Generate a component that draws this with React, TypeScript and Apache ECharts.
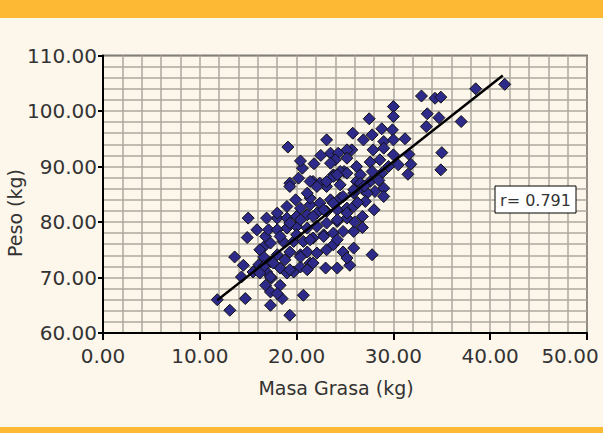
import React, { useEffect, useRef } from "react";
import * as echarts from "echarts";

const masaGrasa = [
  38.5, 41.5, 32.9, 34.3, 34.9, 30.0, 30.0, 33.5, 34.7, 37.0, 33.4, 27.5, 35.0, 34.9, 31.5, 31.8, 31.2, 31.6, 30.5, 28.8,
  29.9, 25.8, 26.9, 27.8, 29.0, 30.0, 27.9, 29.0, 27.6, 28.6, 26.2, 25.7, 28.8, 30.0, 27.6, 29.0, 26.2, 26.9, 28.1, 25.9,
  29.0, 19.1, 20.6, 23.1, 23.5, 24.3, 25.2, 24.0, 25.2, 21.7, 22.4, 19.3, 20.2, 23.8, 24.9, 19.3, 21.4, 23.5, 24.5, 23.8,
  23.1, 24.5, 25.2, 26.6, 27.8, 27.3, 28.0, 26.8, 25.9, 27.8, 25.9, 24.8, 25.5, 24.2, 23.0, 20.7, 18.5, 17.3, 19.3, 14.7,
  13.1, 11.8, 13.6, 14.5, 15.0, 15.9, 14.9, 14.3, 16.8, 17.3, 15.5, 16.6, 16.8, 17.1, 18.0, 16.1, 16.9, 17.4, 18.3, 19.0,
  19.7, 20.4, 21.4, 18.8, 18.0, 19.3, 20.4, 21.1, 22.1, 23.1, 23.8, 16.6, 17.3, 18.6, 19.7, 20.7, 21.7, 22.8, 23.8, 24.8,
  18.0, 19.0, 20.0, 21.1, 22.1, 23.1, 24.2, 25.2, 19.0, 20.0, 21.1, 22.1, 23.1, 24.2, 25.2, 20.4, 21.4, 22.4, 23.5, 24.5,
  21.4, 25.2, 24.2, 16.9, 18.0, 19.0, 19.9, 21.1, 22.1, 23.1, 19.3, 20.4, 21.7, 22.8, 23.8, 24.8, 25.9, 26.6, 25.2, 24.2,
  25.9, 27.1, 24.2, 22.8, 21.4, 20.0, 18.3, 17.3, 16.2, 16.6, 17.6, 16.2, 17.3, 18.3, 18.0, 21.7, 21.1, 19.3, 20.4, 26.3,
  27.0, 28.5, 29.5, 26.0, 26.8, 20.4, 21.8, 22.5
];

const peso = [
  104.0, 104.8, 102.7, 102.3, 102.5, 100.8, 99.0, 99.5, 98.8, 98.1, 97.2, 98.6, 92.5, 89.4, 88.6, 90.4, 95.0, 92.2, 90.3, 96.8,
  96.6, 96.0, 94.8, 95.7, 94.5, 94.8, 93.0, 93.3, 90.8, 91.2, 90.0, 93.0, 88.8, 92.1, 87.3, 86.1, 87.3, 85.8, 85.5, 85.2,
  84.6, 93.5, 89.7, 94.8, 92.4, 92.4, 93.0, 91.2, 91.5, 87.3, 87.0, 87.0, 87.9, 88.5, 89.1, 86.4, 87.3, 90.6, 89.1, 88.2,
  86.4, 86.7, 88.8, 88.5, 89.1, 85.2, 82.2, 81.0, 78.3, 74.1, 75.3, 74.6, 72.2, 71.7, 71.7, 66.8, 66.2, 65.0, 63.2, 66.2,
  64.1, 66.0, 73.7, 72.2, 80.7, 78.6, 77.2, 70.1, 68.6, 67.4, 71.0, 75.5, 77.4, 78.6, 80.7, 72.3, 71.0, 69.9, 71.7, 70.8,
  71.0, 71.9, 72.6, 73.2, 74.1, 74.6, 74.1, 74.6, 74.4, 75.0, 75.9, 73.7, 72.8, 76.5, 76.5, 76.5, 77.1, 77.7, 78.0, 78.3,
  78.6, 78.9, 79.2, 78.9, 79.2, 79.8, 80.1, 80.7, 80.7, 81.0, 81.3, 81.6, 81.9, 82.2, 82.5, 82.5, 83.1, 83.4, 84.0, 84.3,
  84.3, 73.5, 88.5, 80.7, 81.6, 82.8, 84.0, 85.2, 86.4, 87.3, 79.8, 80.4, 81.0, 82.2, 83.4, 84.6, 85.8, 87.0, 81.6, 80.4,
  82.8, 83.7, 76.8, 77.4, 76.8, 77.7, 77.4, 76.2, 75.0, 72.0, 72.6, 70.8, 70.1, 68.6, 67.1, 72.6, 71.4, 71.4, 73.7, 83.5,
  86.5, 87.5, 90.0, 80.0, 79.0, 91.0, 90.5, 92.0
];

const lineX = [11.8, 41.3];
const lineY = [65.9, 106.4];

const xTicks = [0, 10, 20, 30, 40, 50];
const yTicks = [60, 70, 80, 90, 100, 110];

const xTitle = "Masa Grasa (kg)";
const yTitle = "Peso (kg)";
const rLabel = "r= 0.791";

const FONT = "DejaVu Sans";
const GRID_COLOR = "#aca89f";
const TEXT_COLOR = "#333";

export default function App() {
  const ref = useRef<HTMLDivElement>(null);
  useEffect(() => {
    if (!ref.current) return;
    const chart = echarts.init(ref.current, undefined, { renderer: "svg" });
    const points = masaGrasa.map((x, i) => [x, peso[i]]);
    const linePts = lineX.map((x, i) => [x, lineY[i]]);
    const xMax = xTicks[xTicks.length - 1];
    const labelStyle = { fontFamily: FONT, fontSize: 20, color: TEXT_COLOR };
    const axisCommon = {
      type: "value" as const,
      axisLine: { show: true, onZero: false, lineStyle: { color: "#000", width: 2 } },
      splitLine: { show: true, lineStyle: { color: GRID_COLOR, width: 1.5 } },
      minorTick: { show: false, splitNumber: 5 },
      minorSplitLine: { show: true, lineStyle: { color: GRID_COLOR, width: 1.5 } },
    };
    chart.setOption({
      animation: false,
      backgroundColor: "#fdf6ea",
      graphic: [
        { type: "rect", left: 603, top: 0, z: -5, shape: { width: 6, height: 433 }, style: { fill: "#ffffff" }, silent: true },
        { type: "rect", left: 0, top: 0, shape: { width: 603, height: 18 }, style: { fill: "#fdb933" }, silent: true },
        { type: "rect", left: 0, top: 427, shape: { width: 603, height: 6 }, style: { fill: "#fdb933" }, silent: true },
        {
          type: "rect",
          z: 100,
          shape: { x: 495, y: 186, width: 81, height: 27 },
          style: { fill: "#ffffff", stroke: "#000", lineWidth: 1 },
          silent: true,
        },
        {
          type: "text",
          z: 101,
          x: 535.5,
          y: 200,
          style: { text: rLabel, fontFamily: FONT, fontSize: 16, fill: TEXT_COLOR, align: "center", verticalAlign: "middle" },
          silent: true,
        },
        {
          type: "text",
          z: 50,
          x: 336,
          y: 388,
          style: { text: xTitle, fontFamily: FONT, fontSize: 19, fill: TEXT_COLOR, align: "center", verticalAlign: "middle" },
          silent: true,
        },
        {
          type: "text",
          z: 50,
          x: 15,
          y: 213,
          rotation: Math.PI / 2,
          style: { text: yTitle, fontFamily: FONT, fontSize: 19, fill: TEXT_COLOR, align: "center", verticalAlign: "middle" },
          silent: true,
        },
      ],
      grid: {
        left: 103,
        right: 22,
        top: 55.5,
        bottom: 100,
        show: true,
        backgroundColor: "#fdf6ea",
        borderColor: "#000",
        borderWidth: 1.5,
      },
      xAxis: {
        ...axisCommon,
        min: xTicks[0],
        max: xMax,
        interval: xTicks[1] - xTicks[0],
        axisTick: { show: true, inside: false, length: 7, lineStyle: { color: "#000", width: 2 } },
        axisLabel: {
          ...labelStyle,
          margin: 13,
          formatter: (v: number) => (v === xMax ? "{m|" + v.toFixed(2) + "}" : v.toFixed(2)),
          rich: { m: { ...labelStyle, padding: [0, 34, 0, 0] } },
        },
      },
      yAxis: {
        ...axisCommon,
        min: yTicks[0],
        max: yTicks[yTicks.length - 1],
        interval: yTicks[1] - yTicks[0],
        axisTick: { show: true, inside: false, length: 5, lineStyle: { color: "#000", width: 2 } },
        axisLabel: { ...labelStyle, margin: 6, formatter: (v: number) => v.toFixed(2) },
      },
      series: [
        {
          type: "scatter",
          data: points,
          symbol: "diamond",
          symbolSize: 12,
          itemStyle: { color: "#2d2a8a", borderColor: "#111", borderWidth: 1, opacity: 1 },
          z: 3,
        },
        {
          type: "line",
          data: linePts,
          symbol: "none",
          lineStyle: { color: "#000", width: 2.5 },
          z: 4,
        },
      ],
    });
    return () => chart.dispose();
  }, []);
  return (
    <div style={{ position: "fixed", left: 0, top: 0, width: 609, height: 433 }}>
      <div ref={ref} style={{ width: 609, height: 433 }} />
    </div>
  );
}
